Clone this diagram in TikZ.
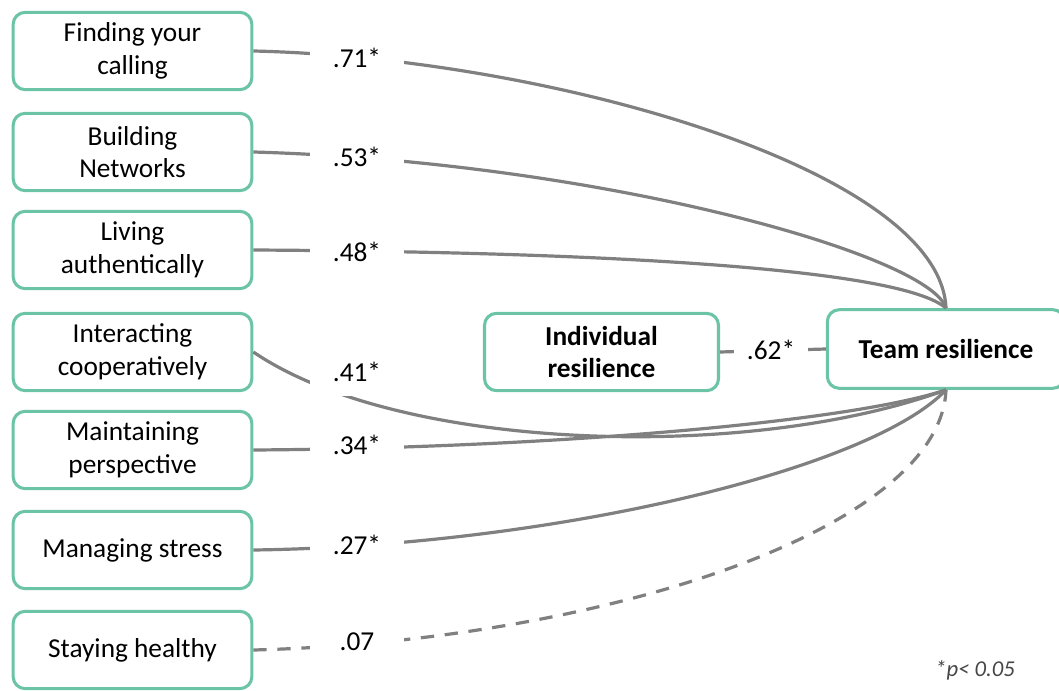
\documentclass[tikz,border=0pt]{standalone}
\usepackage{fontspec}
\setmainfont{Carlito}
\definecolor{boxgreen}{RGB}{108,196,166}
\definecolor{linkgray}{RGB}{128,128,128}
\definecolor{notegray}{RGB}{70,70,70}
\begin{document}
\begin{tikzpicture}[x=0.75pt,y=-0.75pt,
  box/.style={draw=boxgreen, line width=2.3pt, rounded corners=9pt, fill=white,
    minimum width=179pt, minimum height=58pt, align=center, inner sep=0pt,
    font=\fontsize{20.5}{24.5}\selectfont},
  link/.style={draw=linkgray, line width=2.4pt},
  coef/.style={fill=white, inner sep=0pt, minimum width=71pt, minimum height=36pt,
    font=\fontsize{20.5}{24.5}\selectfont}
]
\useasboundingbox (0,0) rectangle (1059,691);

% predictors
\node[box] (b1) at (132.5,51)  {Finding your\\calling};
\node[box] (b2) at (132.5,152) {Building\\Networks};
\node[box] (b3) at (132.5,250) {Living\\authentically};
\node[box] (b4) at (132.5,352) {Interacting\\cooperatively};
\node[box] (b5) at (132.5,450) {Maintaining\\perspective};
\node[box] (b6) at (132.5,550) {Managing stress};
\node[box] (b7) at (132.5,650) {Staying healthy};

% outcomes
\node[box, minimum width=175.5pt, font=\fontsize{20.5}{24.5}\selectfont\bfseries] (ind) at (601.5,352) {Individual\\resilience};
\node[box, minimum width=178pt, minimum height=59pt, font=\fontsize{20.5}{24.5}\selectfont\bfseries] (team) at (946,349) {Team resilience};

% paths into team resilience
\draw[link] (b1.east) .. controls (550,58) and (940,170) .. (team.north);
\draw[link] (b2.east) .. controls (600,162) and (930,255) .. (team.north);
\draw[link] (b3.east) .. controls (600,252) and (900,268) .. (team.north);
\draw[link] (b4.east) .. controls (400,452) and (750,462) .. (team.south);
\draw[link] (b5.east) .. controls (550,448) and (850,422) .. (team.south);
\draw[link] (b6.east) .. controls (550,546) and (870,470) .. (team.south);
\draw[link, dash pattern=on 10pt off 8pt] (b7.east) .. controls (600,641) and (940,530) .. (team.south);
\draw[link] (ind.east) -- (team.west);

% coefficients
\node[coef] (c1) at (357,58)  {.71*};
\node[coef] (c2) at (357,157) {.53*};
\node[coef] (c3) at (357,252) {.48*};
\node[coef] (c4) at (357,372) {.41*};
\node[coef] (c5) at (357,445) {.34*};
\node[coef] (c6) at (357,545) {.27*};
\node[coef] (c7) at (357,642) {.07};
\node[coef, minimum width=55pt] (c8) at (771,350) {.62*};

% significance note
\node[text=notegray, font=\fontsize{17}{20}\selectfont\itshape] (note) at (975,670) {*p< 0.05};
\end{tikzpicture}
\end{document}
